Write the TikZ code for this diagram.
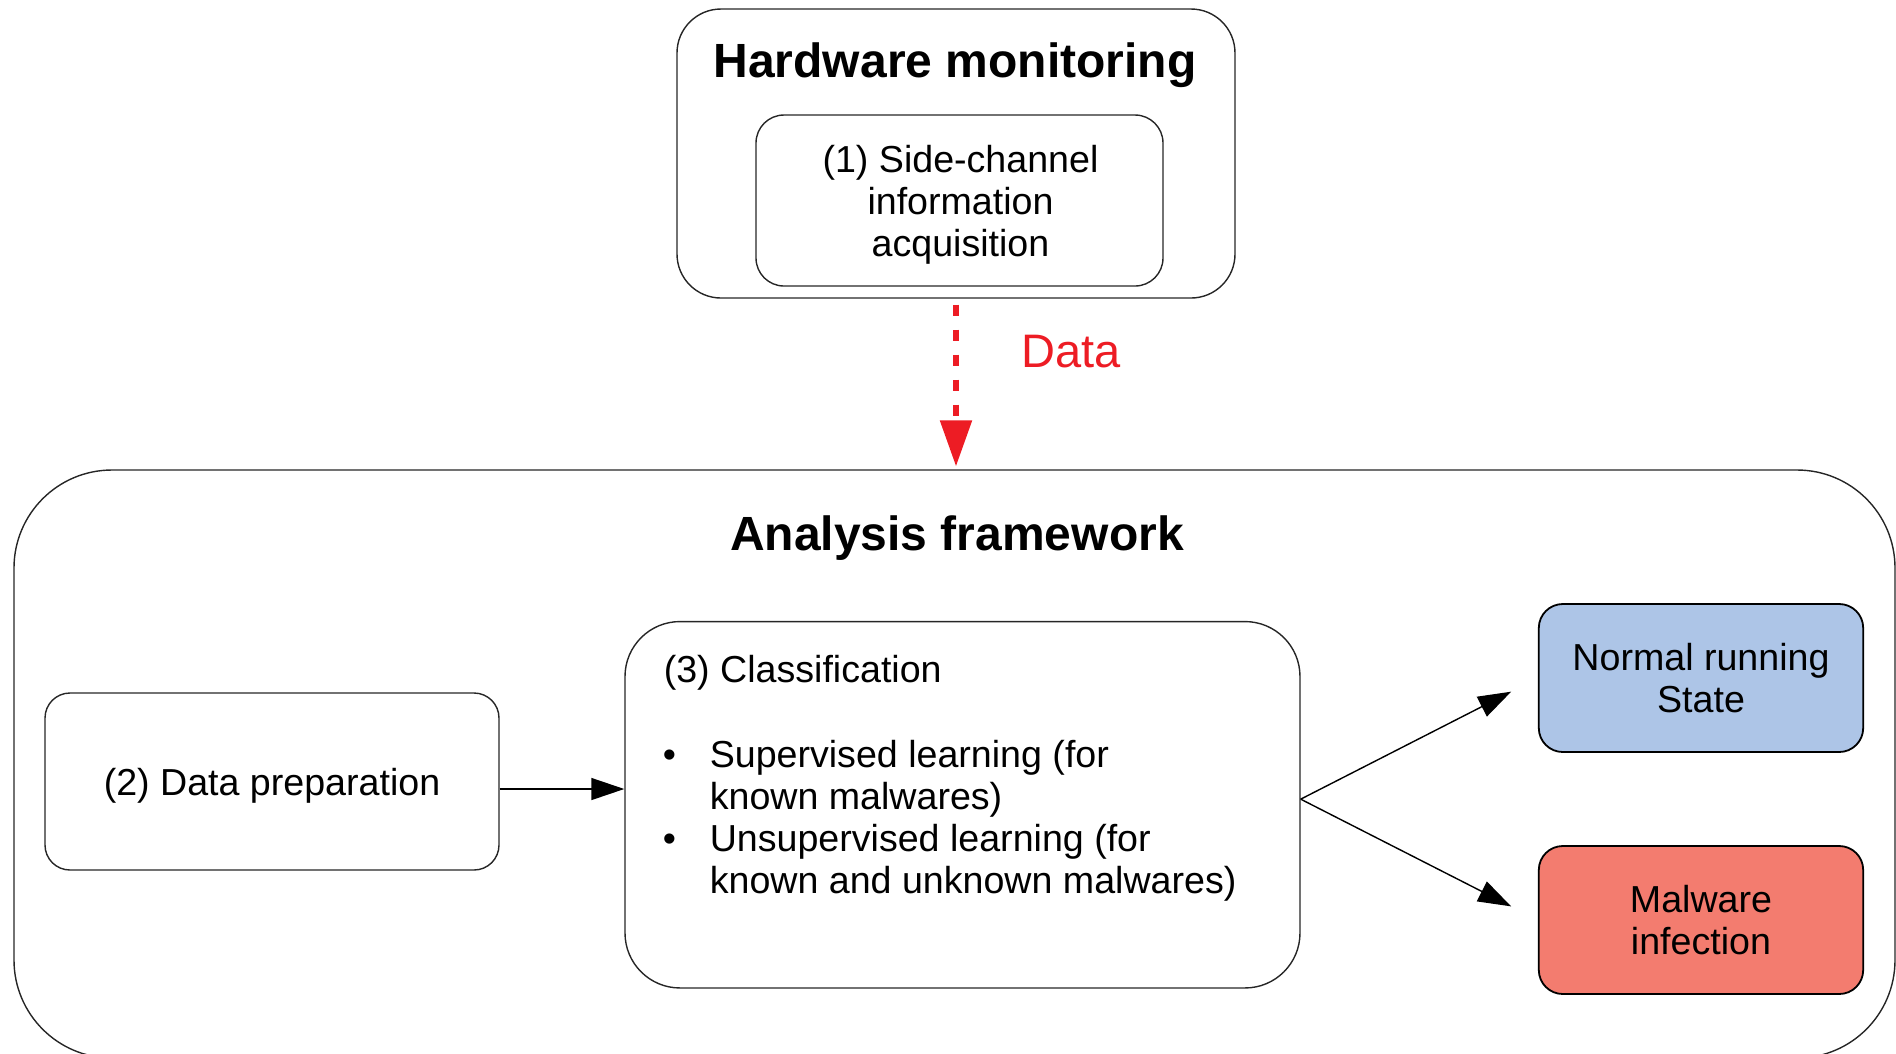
\documentclass[tikz,border=0pt]{standalone}
\usepackage{fontspec}
\setmainfont{Liberation Sans}
\usetikzlibrary{arrows.meta}
\definecolor{datared}{RGB}{237,28,36}
\definecolor{normalblue}{RGB}{173,197,231}
\definecolor{malwarered}{RGB}{243,124,111}
\def\bodyfont{\fontsize{9.4}{10.5}\selectfont}
\def\titlefont{\fontsize{12}{14}\selectfont\bfseries}
\tikzset{
  panel/.style = {draw=black!85, line width=.35pt, rounded corners=#1, inner sep=0pt},
  outcome/.style = {draw=black, line width=.45pt, rounded corners=6pt,
    minimum width=81.1pt, minimum height=37pt, inner sep=0pt,
    align=center, font=\bodyfont},
  flow/.style = {black, line width=.35pt, -{Triangle[length=8.25pt,width=5.5pt]}},
  dataflow/.style = {datared, line width=1.35pt, dash pattern=on 2.75pt off 3.5pt,
    shorten <=1.5pt, shorten >=.75pt, -{Triangle[length=11.5pt,width=7.75pt]}}
}

\begin{document}
\begin{tikzpicture}[x=.25pt, y=-.25pt]
  \useasboundingbox (0,0) rectangle (1896,1053);

  % hardware side
  \node [panel=11pt, minimum width=139.5pt, minimum height=72.25pt] (hw) at (956,153.5) {};
  \node [font=\titlefont, anchor=base] (hwtitle) at (955,77) {Hardware monitoring};
  \node [panel=7pt, minimum width=101.75pt, minimum height=42.75pt] (sidech) at (959.5,200.5) {};
  \node [align=center, font=\bodyfont, inner sep=0pt] (sidetext) at (960.5,204.5)
    {(1) Side-channel\\information\\acquisition};

  % analysis side
  \node [panel=24.5pt, minimum width=470.25pt, minimum height=147pt] (frame) at (954.5,764) {};
  \node [font=\titlefont, anchor=base] (frametitle) at (957,550) {Analysis framework};

  \node [panel=6.25pt, minimum width=113.5pt, minimum height=44.25pt,
    font=\bodyfont, text depth=0pt] (prep) at (272,781.5) {(2) Data preparation};

  \node [panel=13.75pt, minimum width=168.75pt, minimum height=91.6pt] (classif) at (962.5,804.75) {};
  \node [font=\bodyfont, anchor=base west, inner sep=0pt]
    (classtitle) at (663,682) {(3) Classification};
  \node [font=\bodyfont, anchor=base west, inner sep=0pt] (classitems) at (662,767)
    {\begin{tabular}[t]{@{}l@{}l@{}}
       \makebox[11.75pt][l]{\textbullet} & Supervised learning (for\\
                                         & known malwares)\\
       \makebox[11.75pt][l]{\textbullet} & Unsupervised learning (for\\
                                         & known and unknown malwares)
     \end{tabular}};

  \node [outcome, fill=normalblue] (normal) at (1701,678) {Normal running\\State};
  \node [outcome, fill=malwarered] (malware) at (1701,920) {Malware\\infection};

  % connectors
  \draw [dataflow] (hw.south) -- (hw.south |- frame.north);
  \node [font=\fontsize{11.75}{14}\selectfont, text=datared, anchor=base] (datalabel) at (1071,367) {Data};

  \draw [flow] ([yshift=-1.875pt]prep.east) -- ([yshift=-1.875pt]prep.east -| classif.west);
  \draw [flow, shorten >=7.5pt] ([yshift=1.4pt]classif.east) -- (normal.west);
  \draw [flow, shorten >=7.5pt] ([yshift=1.4pt]classif.east) -- (malware.west);
\end{tikzpicture}
\end{document}
